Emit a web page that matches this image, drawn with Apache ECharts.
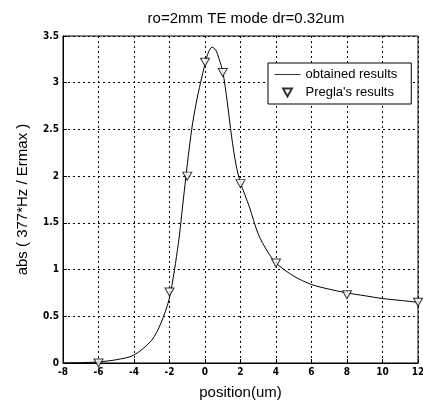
<!DOCTYPE html>
<html>
<head>
<meta charset="utf-8">
<script src="https://cdn.jsdelivr.net/npm/echarts@6/dist/echarts.min.js"></script>
<style>
  html, body { margin: 0; padding: 0; background: #fff; }
  #main { width: 423px; height: 402px; }
</style>
</head>
<body>
<div id="main"></div>
<script>
// obtained results (solid curve)
var obtainedX = [-8, -7, -6, -5, -4, -3, -2.5, -2, -1.5, -1.25, -1, -0.75, -0.5, -0.25, 0, 0.2, 0.4, 0.6, 0.8, 1, 1.25, 1.5, 1.75, 2, 2.5, 3, 3.5, 4, 5, 6, 7, 8, 9, 10, 11, 12];
var obtainedY = [0, 0.003, 0.012, 0.035, 0.085, 0.245, 0.42, 0.70, 1.28, 1.70, 2.12, 2.5, 2.78, 3.0, 3.2, 3.33, 3.38, 3.35, 3.25, 3.12, 2.8, 2.42, 2.12, 1.93, 1.67, 1.38, 1.2, 1.07, 0.93, 0.84, 0.79, 0.75, 0.72, 0.69, 0.67, 0.65];

// Pregla's results (triangles)
var preglaX = [-6, -2, -1, 0, 1, 2, 4, 8, 12];
var preglaY = [0, 0.76, 2.0, 3.22, 3.11, 1.92, 1.07, 0.73, 0.65];

var xTicks = { min: -8, max: 12, step: 2 };
var yTicks = { min: 0, max: 3.5, step: 0.5 };

function pairs(xs, ys) {
  return xs.map(function (x, i) { return [x, ys[i]]; });
}

var triangle = 'path://M0,0 L10,0 L5,9 Z';
var font = 'Liberation Sans, Arial, sans-serif';
var tickFont = '"Liberation Sans Narrow", "DejaVu Sans Condensed", sans-serif';

var myChart = echarts.init(document.getElementById('main'));
myChart.setOption({
  animation: false,
  backgroundColor: '#fff',
  title: {
    text: 'ro=2mm TE mode dr=0.32um',
    left: 241,
    top: 6,
    textAlign: 'center',
    textStyle: { fontFamily: font, fontSize: 15, fontWeight: 'normal', color: '#000' }
  },
  legend: {
    show: true,
    orient: 'vertical',
    left: 268,
    top: 63,
    padding: [5, 14, 5, 6],
    itemGap: 5,
    itemWidth: 26,
    itemHeight: 8,
    borderColor: '#000',
    borderWidth: 1,
    backgroundColor: '#fff',
    textStyle: { fontFamily: font, fontSize: 13, color: '#000' },
    data: [
      { name: 'obtained results', itemStyle: { opacity: 0 }, lineStyle: { width: 1, color: '#333' } },
      { name: "Pregla's results" }
    ]
  },
  grid: {
    left: 63,
    right: 5,
    top: 36,
    bottom: 39,
    outerBoundsMode: 'none',
    show: true,
    borderColor: '#000',
    borderWidth: 1
  },
  xAxis: {
    type: 'value',
    min: xTicks.min,
    max: xTicks.max,
    interval: xTicks.step,
    name: 'position(um)',
    nameLocation: 'middle',
    nameGap: 22,
    nameTextStyle: { fontFamily: font, fontSize: 15, color: '#000' },
    axisLine: { onZero: false, lineStyle: { color: '#000' } },
    axisTick: { inside: true, length: 4, lineStyle: { color: '#000' } },
    axisLabel: { fontFamily: tickFont, fontSize: 10, fontWeight: 'bold', color: '#000', margin: 4 },
    splitLine: { show: true, lineStyle: { color: '#000', type: [2, 3], width: 1 } }
  },
  yAxis: {
    type: 'value',
    min: yTicks.min,
    max: yTicks.max,
    interval: yTicks.step,
    name: 'abs ( 377*Hz / Ermax )',
    nameLocation: 'middle',
    nameGap: 33,
    nameTextStyle: { fontFamily: font, fontSize: 15, color: '#000' },
    axisLine: { show: true, onZero: false, lineStyle: { color: '#000' } },
    axisTick: { show: true, inside: true, length: 4, lineStyle: { color: '#000' } },
    axisLabel: { fontFamily: tickFont, fontSize: 10, fontWeight: 'bold', color: '#000', margin: 4 },
    splitLine: { show: true, lineStyle: { color: '#000', type: [2, 3], width: 1 } }
  },
  series: [
    {
      name: 'obtained results',
      type: 'line',
      smooth: 0.3,
      symbol: 'none',
      lineStyle: { color: '#000', width: 1 },
      itemStyle: { color: '#000' },
      data: pairs(obtainedX, obtainedY),
      z: 3
    },
    {
      name: "Pregla's results",
      type: 'scatter',
      symbol: triangle,
      symbolSize: [9, 8],
      itemStyle: { color: '#fff', borderColor: '#000', borderWidth: 1 },
      data: pairs(preglaX, preglaY),
      z: 4
    }
  ]
});
</script>
</body>
</html>
